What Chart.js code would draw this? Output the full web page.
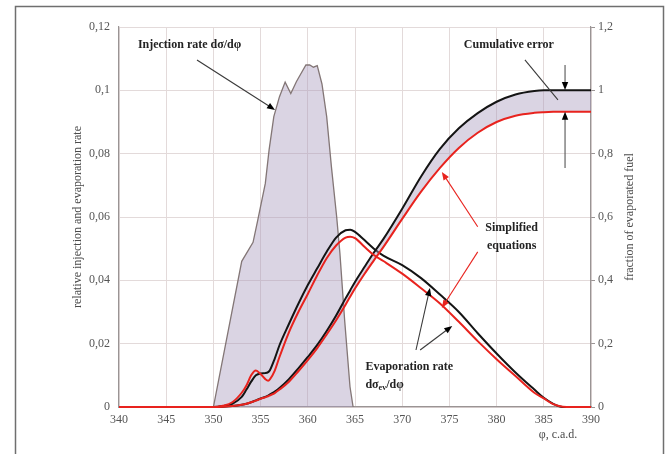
<!DOCTYPE html>
<html>
<head>
<meta charset="utf-8">
<title>Injection and evaporation rate</title>
<script src="https://cdn.jsdelivr.net/npm/chart.js@4/dist/chart.umd.min.js"></script>
<style>
  html, body { margin: 0; padding: 0; background: #fff; }
  canvas { display: block; }
</style>
</head>
<body>
<canvas id="evapChart" width="669" height="454"></canvas>
<script>
// crank angle, deg
const injAngle = [350, 353, 354.2, 354.7, 355.5, 355.9, 356.4, 357.0, 357.6, 358.2, 358.8, 359.8, 360.2, 360.6, 361.0, 361.5, 362.0, 362.5, 363.06, 363.4, 363.9, 364.47, 364.8];
const injRate = [0, 0.046, 0.052, 0.059, 0.0706, 0.0812, 0.0917, 0.098, 0.1026, 0.099, 0.1028, 0.108, 0.108, 0.1073, 0.1078, 0.102, 0.0917, 0.0759, 0.060, 0.0486, 0.0275, 0.0064, 0];

const angle = [340, 350, 351, 352, 353, 353.5, 354, 354.5, 355, 355.5, 355.8, 356, 356.5, 357, 358, 359, 360, 361, 362, 363, 364, 364.5, 365, 366, 367, 368, 370, 372, 374, 376, 378, 380, 382, 384, 385, 386, 387, 388, 390];

// evaporation rate, full model and simplified equations
const evapRate = [0, 0, 0.0003, 0.001, 0.0032, 0.0055, 0.0080, 0.0100, 0.0106, 0.0107, 0.0110, 0.0117, 0.0153, 0.0195, 0.0262, 0.0326, 0.0385, 0.0438, 0.0490, 0.0535, 0.0558, 0.0560, 0.0553, 0.0527, 0.0500, 0.0478, 0.0448, 0.0407, 0.0355, 0.0300, 0.0233, 0.0169, 0.0109, 0.0055, 0.0029, 0.0010, 0, 0, 0];
const evapRateSimple = [0, 0, 0.0004, 0.0015, 0.0045, 0.0068, 0.0100, 0.0115, 0.0104, 0.0088, 0.0083, 0.0088, 0.0115, 0.0158, 0.0236, 0.0300, 0.0357, 0.0416, 0.0470, 0.0510, 0.0535, 0.0538, 0.0533, 0.0506, 0.0480, 0.0461, 0.0421, 0.0375, 0.0327, 0.0269, 0.0208, 0.0151, 0.0098, 0.0045, 0.0027, 0.0009, 0.0001, 0, 0];

// fraction of evaporated fuel
const evapFrac = [0, 0, 0.001, 0.003, 0.007, 0.010, 0.015, 0.021, 0.027, 0.032, 0.036, 0.040, 0.049, 0.060, 0.088, 0.122, 0.158, 0.196, 0.240, 0.289, 0.343, 0.369, 0.395, 0.442, 0.488, 0.530, 0.626, 0.728, 0.815, 0.880, 0.928, 0.964, 0.987, 0.998, 1.0, 1.0, 1.0, 1.0, 1.0];
const evapFracSimple = [0, 0, 0.001, 0.003, 0.007, 0.010, 0.015, 0.020, 0.026, 0.031, 0.034, 0.037, 0.044, 0.055, 0.080, 0.113, 0.148, 0.186, 0.229, 0.274, 0.323, 0.349, 0.374, 0.420, 0.463, 0.505, 0.594, 0.680, 0.755, 0.818, 0.866, 0.900, 0.920, 0.929, 0.931, 0.932, 0.932, 0.932, 0.932];

const xTicks = { min: 340, max: 390, step: 5 };
const rateTicks = { min: 0, max: 0.12, step: 0.02 };
const fracTicks = { min: 0, max: 1.2, step: 0.2 };

const SERIF = '"Liberation Serif", "Times New Roman", serif';
const BLACK = '#141414';
const RED = '#e8231e';
const LAVENDER = 'rgba(168, 152, 188, 0.42)';

function pts(xs, ys) {
  return xs.map((x, i) => ({ x: x, y: ys[i] }));
}

function commaNum(v, digits) {
  return String(Number(v.toFixed(digits))).replace('.', ',');
}

// text labels and arrows, placed in (angle, rate) units
const notes = [
  { text: 'Injection rate dσ/dφ', x: 342.0, y: 0.1143, align: 'left' },
  { text: 'Cumulative error', x: 381.3, y: 0.1143, align: 'center' },
  { text: 'Simplified', x: 381.6, y: 0.0565, align: 'center' },
  { text: 'equations', x: 381.6, y: 0.0509, align: 'center' },
  { text: 'Evaporation rate', x: 366.1, y: 0.0126, align: 'left' }
];
const arrows = [
  { from: [348.26, 0.1096], to: [356.53, 0.0938], color: '#3a3a3a', head: true },
  { from: [383.0, 0.1096], to: [386.5, 0.0970], color: '#3a3a3a', head: false },
  { from: [387.25, 0.1080], to: [387.25, 0.1001], color: '#555', head: true },
  { from: [387.25, 0.0755], to: [387.25, 0.0932], color: '#555', head: true },
  { from: [378.0, 0.0569], to: [374.2, 0.0742], color: RED, head: true },
  { from: [378.0, 0.0490], to: [374.2, 0.0313], color: RED, head: true },
  { from: [371.46, 0.0180], to: [372.94, 0.0376], color: '#3a3a3a', head: true },
  { from: [371.9, 0.0180], to: [375.3, 0.0256], color: '#3a3a3a', head: true }
];

function drawArrow(ctx, x1, y1, x2, y2, color, head) {
  const a = Math.atan2(y2 - y1, x2 - x1);
  const len = 8, half = 3.2;
  ctx.save();
  ctx.strokeStyle = color;
  ctx.lineWidth = 1.1;
  ctx.beginPath();
  ctx.moveTo(x1, y1);
  ctx.lineTo(head ? x2 - Math.cos(a) * len * 0.8 : x2, head ? y2 - Math.sin(a) * len * 0.8 : y2);
  ctx.stroke();
  if (head) {
    ctx.fillStyle = color === RED ? RED : '#000';
    ctx.beginPath();
    ctx.moveTo(x2, y2);
    ctx.lineTo(x2 - Math.cos(a) * len - Math.sin(a) * half, y2 - Math.sin(a) * len + Math.cos(a) * half);
    ctx.lineTo(x2 - Math.cos(a) * len + Math.sin(a) * half, y2 - Math.sin(a) * len - Math.cos(a) * half);
    ctx.closePath();
    ctx.fill();
  }
  ctx.restore();
}

const decorations = {
  id: 'decorations',
  afterDraw(chart) {
    const ctx = chart.ctx;
    const xs = chart.scales.x, ys = chart.scales.y;
    const area = chart.chartArea;
    const midY = (area.top + area.bottom) / 2;

    ctx.save();
    // outer frame
    ctx.strokeStyle = '#6f6f6f';
    ctx.lineWidth = 1.5;
    ctx.strokeRect(15.5, 6.5, 648, 470);

    // axis titles
    ctx.fillStyle = '#4a4a4a';
    ctx.font = '12px ' + SERIF;
    ctx.textAlign = 'center';
    ctx.textBaseline = 'middle';
    ctx.save();
    ctx.translate(78, midY);
    ctx.rotate(-Math.PI / 2);
    ctx.fillText('relative injection and evaporation rate', 0, 0);
    ctx.restore();
    ctx.save();
    ctx.translate(630, midY);
    ctx.rotate(-Math.PI / 2);
    ctx.fillText('fraction of evaporated fuel', 0, 0);
    ctx.restore();
    ctx.fillText('φ, c.a.d.', 558, 435);

    // arrows
    arrows.forEach(a => {
      drawArrow(ctx, xs.getPixelForValue(a.from[0]), ys.getPixelForValue(a.from[1]),
        xs.getPixelForValue(a.to[0]), ys.getPixelForValue(a.to[1]), a.color, a.head);
    });

    // labels
    ctx.fillStyle = '#232323';
    ctx.font = 'bold 12px ' + SERIF;
    notes.forEach(n => {
      ctx.textAlign = n.align;
      ctx.fillText(n.text, xs.getPixelForValue(n.x), ys.getPixelForValue(n.y));
    });

    // dσev/dφ with subscript
    let px = xs.getPixelForValue(366.1);
    const py = ys.getPixelForValue(0.0069);
    ctx.textAlign = 'left';
    ctx.fillText('dσ', px, py);
    px += ctx.measureText('dσ').width;
    ctx.font = 'bold 8px ' + SERIF;
    ctx.fillText('ev', px, py + 3);
    px += ctx.measureText('ev').width;
    ctx.font = 'bold 12px ' + SERIF;
    ctx.fillText('/dφ', px, py);
    ctx.restore();
  }
};

const lineBase = { pointRadius: 0, borderWidth: 2, cubicInterpolationMode: 'monotone', clip: 4 };

new Chart(document.getElementById('evapChart').getContext('2d'), {
  type: 'line',
  data: {
    datasets: [
      Object.assign({}, lineBase, {
        label: 'Evaporated fuel',
        data: pts(angle, evapFrac),
        yAxisID: 'y2',
        borderColor: BLACK,
        backgroundColor: LAVENDER,
        fill: '+1',
        order: 2
      }),
      Object.assign({}, lineBase, {
        label: 'Evaporated fuel, simplified',
        data: pts(angle, evapFracSimple),
        yAxisID: 'y2',
        borderColor: RED,
        fill: false,
        order: 1
      }),
      Object.assign({}, lineBase, {
        label: 'Evaporation rate',
        data: pts(angle, evapRate),
        yAxisID: 'y',
        borderColor: BLACK,
        fill: false,
        order: 2
      }),
      Object.assign({}, lineBase, {
        label: 'Evaporation rate, simplified',
        data: pts(angle, evapRateSimple),
        yAxisID: 'y',
        borderColor: RED,
        fill: false,
        order: 1
      }),
      {
        label: 'Injection rate',
        data: pts(injAngle, injRate),
        yAxisID: 'y',
        pointRadius: 0,
        borderWidth: 1.3,
        borderColor: '#837676',
        backgroundColor: LAVENDER,
        fill: 'origin',
        tension: 0,
        order: 5
      }
    ]
  },
  options: {
    responsive: false,
    animation: false,
    layout: { padding: { top: 27, left: 0, right: 0, bottom: 0 } },
    plugins: {
      legend: { display: false },
      tooltip: { enabled: false }
    },
    scales: {
      x: {
        type: 'linear',
        min: xTicks.min,
        max: xTicks.max,
        afterFit(scale) { scale.height = 47; },
        grid: { color: '#e3dada', drawTicks: false },
        border: { color: '#9a9494', width: 1.2 },
        ticks: {
          stepSize: xTicks.step,
          padding: 6,
          color: '#555',
          font: { family: SERIF, size: 12 }
        }
      },
      y: {
        position: 'left',
        min: rateTicks.min,
        max: rateTicks.max,
        afterFit(scale) { scale.width = 119; },
        grid: { color: '#e3dada', drawTicks: false },
        border: { color: '#9a9494', width: 1.2 },
        ticks: {
          stepSize: rateTicks.step,
          padding: 9,
          color: '#555',
          font: { family: SERIF, size: 12 },
          callback: v => commaNum(v, 2)
        }
      },
      y2: {
        position: 'right',
        min: fracTicks.min,
        max: fracTicks.max,
        afterFit(scale) { scale.width = 78; },
        // short outward tick marks only
        grid: { display: true, drawOnChartArea: false, drawTicks: true, tickLength: 4, color: '#9a9494' },
        border: { display: true, color: '#9a9494', width: 1.2 },
        ticks: {
          stepSize: fracTicks.step,
          padding: 3,
          color: '#555',
          font: { family: SERIF, size: 12 },
          callback: v => commaNum(v, 1)
        }
      }
    }
  },
  plugins: [decorations]
});
</script>
</body>
</html>
